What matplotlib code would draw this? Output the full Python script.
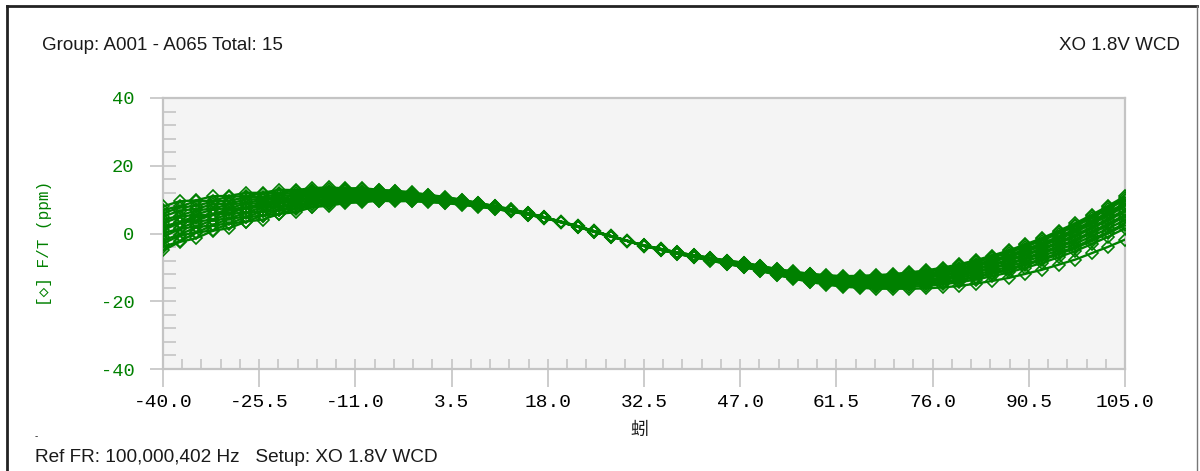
import matplotlib
matplotlib.use("Agg")
import matplotlib.pyplot as plt
from matplotlib.ticker import FixedLocator, AutoMinorLocator
from matplotlib.lines import Line2D

# ---------------- data ----------------
temps = [-40.0, -37.5, -35.0, -32.5, -30.0, -27.5, -25.0, -22.5, -20.0, -17.5,
         -15.0, -12.5, -10.0, -7.5, -5.0, -2.5, 0.0, 2.5, 5.0, 7.5,
         10.0, 12.5, 15.0, 17.5, 20.0, 22.5, 25.0, 27.5, 30.0, 32.5,
         35.0, 37.5, 40.0, 42.5, 45.0, 47.5, 50.0, 52.5, 55.0, 57.5,
         60.0, 62.5, 65.0, 67.5, 70.0, 72.5, 75.0, 77.5, 80.0, 82.5,
         85.0, 87.5, 90.0, 92.5, 95.0, 97.5, 100.0, 102.5, 105.0]

dev_01 = [8.0, 9.5, 9.8, 11.0, 11.1, 12.0, 12.0, 12.9, 12.8, 13.4, 13.6, 13.3, 13.4, 12.9, 12.6, 12.2, 11.4, 10.8, 10.0, 9.0,
          8.1, 7.2, 6.0, 4.8, 3.4, 2.1, 0.6, -0.8,
          -2.2, -3.5, -4.6, -5.6, -6.4, -7.2, -8.0, -8.7, -9.6, -10.6, -11.4, -12.0, -12.5, -12.7, -12.7, -12.5, -12.2,
          -11.7, -11.1, -10.4, -9.4, -8.2, -6.8, -5.3, -3.5, -1.7, 0.4, 2.6, 5.1, 7.7, 10.5]
dev_02 = [7.0, 8.0, 9.5, 9.7, 10.9, 11.0, 11.8, 12.0, 12.6, 12.8, 13.2, 13.0, 13.1, 12.7, 12.5, 11.8, 11.4, 10.6, 9.9, 9.0,
          8.1, 7.0, 6.1, 4.8, 3.5, 2.2, 0.7, -0.7,
          -2.2, -3.6, -4.7, -5.8, -6.8, -7.7, -8.6, -9.4, -10.5, -11.6, -12.5, -13.3, -14.0, -14.4, -14.5, -14.6, -14.4,
          -14.1, -13.8, -13.2, -12.5, -11.5, -10.3, -9.1, -7.5, -6.0, -4.1, -2.2, 0.1, 2.4, 5.0]
dev_03 = [6.0, 7.6, 8.2, 9.4, 9.7, 10.7, 10.8, 11.7, 11.9, 12.6, 12.6, 12.9, 12.6, 12.6, 12.0, 11.8, 11.0, 10.5, 9.7, 8.9,
          8.0, 7.0, 6.0, 4.8, 3.3, 2.0, 0.5, -0.9,
          -2.2, -3.6, -4.6, -5.7, -6.6, -7.4, -8.3, -9.0, -10.0, -11.0, -11.9, -12.6, -13.2, -13.5, -13.5, -13.5, -13.2,
          -12.8, -12.3, -11.7, -10.8, -9.7, -8.4, -7.0, -5.4, -3.7, -1.7, 0.4, 2.8, 5.3, 8.0]
dev_04 = [5.0, 6.7, 7.3, 8.6, 8.9, 10.0, 10.2, 11.2, 11.3, 12.2, 12.2, 12.5, 12.3, 12.3, 11.8, 11.6, 10.9, 10.4, 9.6, 8.8,
          7.9, 7.0, 5.9, 4.8, 3.5, 2.2, 0.6, -0.7,
          -2.2, -3.7, -4.8, -6.0, -6.9, -7.9, -8.9, -9.8, -10.8, -12.0, -13.0, -13.9, -14.7, -15.2, -15.4, -15.5, -15.4,
          -15.2, -15.0, -14.5, -13.8, -13.0, -11.9, -10.8, -9.3, -7.9, -6.1, -4.3, -2.2, 0.1, 2.5]
dev_05 = [4.0, 5.3, 6.8, 7.4, 8.6, 9.0, 10.0, 10.3, 11.2, 11.4, 12.0, 12.0, 12.2, 11.9, 11.8, 11.2, 10.9, 10.2, 9.5, 8.7,
          7.9, 6.9, 5.9, 4.8, 3.4, 2.0, 0.6, -0.8,
          -2.2, -3.5, -4.5, -5.6, -6.4, -7.2, -8.0, -8.6, -9.5, -10.5, -11.2, -11.9, -12.3, -12.6, -12.5, -12.3, -12.0,
          -11.5, -10.9, -10.1, -9.1, -7.9, -6.5, -5.0, -3.2, -1.4, 0.8, 3.0, 5.5, 8.2, 11.0]
dev_06 = [3.0, 4.9, 5.6, 7.1, 7.5, 8.8, 9.0, 10.1, 10.3, 11.4, 11.4, 11.8, 11.7, 11.8, 11.3, 11.2, 10.5, 10.1, 9.4, 8.6,
          7.8, 6.9, 5.9, 4.7, 3.4, 2.1, 0.6, -0.8,
          -2.2, -3.6, -4.7, -5.8, -6.7, -7.6, -8.4, -9.2, -10.2, -11.3, -12.2, -13.0, -13.6, -13.9, -14.0, -14.0, -13.8,
          -13.5, -13.1, -12.4, -11.6, -10.6, -9.4, -8.1, -6.4, -4.8, -2.9, -0.9, 1.5, 3.9, 6.5]
dev_07 = [2.0, 3.4, 5.2, 5.7, 7.3, 7.6, 8.9, 9.2, 10.2, 10.5, 11.2, 11.3, 11.6, 11.3, 11.3, 10.8, 10.6, 9.9, 9.3, 8.5,
          7.7, 6.8, 5.8, 4.7, 3.4, 2.1, 0.6, -0.8,
          -2.2, -3.7, -4.8, -6.0, -7.0, -8.0, -9.0, -9.9, -11.0, -12.2, -13.2, -14.2, -14.9, -15.5, -15.7, -15.9, -15.8,
          -15.7, -15.5, -15.0, -14.4, -13.6, -12.6, -11.5, -10.1, -8.7, -7.0, -5.2, -3.1, -0.9, 1.5]
dev_08 = [1.0, 3.1, 3.8, 5.5, 6.0, 7.5, 7.8, 9.0, 9.4, 10.5, 10.6, 11.1, 11.0, 11.3, 10.9, 10.8, 10.2, 9.8, 9.1, 8.5,
          7.7, 6.8, 5.8, 4.7, 3.4, 2.1, 0.6, -0.8,
          -2.2, -3.6, -4.6, -5.7, -6.5, -7.3, -8.2, -8.9, -9.8, -10.9, -11.7, -12.4, -12.9, -13.2, -13.2, -13.1, -12.8,
          -12.4, -11.9, -11.1, -10.2, -9.1, -7.8, -6.4, -4.6, -2.9, -0.9, 1.3, 3.7, 6.3, 9.0]
dev_09 = [0.0, 1.5, 3.5, 4.1, 5.8, 6.2, 7.7, 8.0, 9.3, 9.6, 10.4, 10.6, 10.9, 10.8, 10.9, 10.4, 10.3, 9.6, 9.0, 8.4,
          7.6, 6.7, 5.7, 4.7, 3.4, 2.1, 0.6, -0.8,
          -2.2, -3.6, -4.8, -5.9, -6.8, -7.8, -8.7, -9.6, -10.6, -11.8, -12.7, -13.6, -14.2, -14.7, -14.9, -14.9, -14.8,
          -14.6, -14.3, -13.7, -13.0, -12.1, -11.0, -9.8, -8.2, -6.7, -4.9, -3.0, -0.8, 1.5, 4.0]
dev_10 = [-1.0, 1.3, 2.1, 3.9, 4.5, 6.1, 6.5, 8.0, 8.3, 9.6, 9.7, 10.4, 10.4, 10.7, 10.4, 10.4, 9.9, 9.6, 8.9, 8.3,
          7.5, 6.7, 5.7, 4.6, 3.4, 2.1, 0.6, -0.8,
          -2.2, -3.6, -4.7, -5.8, -6.6, -7.5, -8.4, -9.2, -10.1, -11.2, -12.1, -12.9, -13.4, -13.8, -13.9, -13.8, -13.6,
          -13.3, -12.8, -12.2, -11.3, -10.3, -9.1, -7.7, -6.1, -4.4, -2.5, -0.4, 1.9, 4.4, 7.0]
dev_11 = [-2.0, -0.3, 1.8, 2.5, 4.4, 4.9, 6.5, 6.9, 8.3, 8.7, 9.6, 9.9, 10.3, 10.3, 10.4, 10.0, 9.9, 9.4, 8.8, 8.2,
          7.5, 6.6, 5.7, 4.6, 3.4, 2.1, 0.6, -0.8,
          -2.2, -3.6, -4.8, -5.9, -6.9, -7.9, -8.9, -9.8, -11.0, -12.2, -13.3, -14.3, -15.1, -15.7, -16.0, -16.3, -16.3,
          -16.3, -16.2, -15.9, -15.5, -14.8, -14.0, -13.1, -11.9, -10.7, -9.2, -7.7, -5.8, -3.9, -1.8]
dev_12 = [-3.0, -0.6, 0.3, 2.4, 3.0, 4.8, 5.3, 6.9, 7.4, 8.7, 9.0, 9.7, 9.8, 10.2, 10.0, 10.0, 9.6, 9.3, 8.7, 8.1,
          7.4, 6.6, 5.6, 4.6, 3.3, 2.0, 0.5, -0.9,
          -2.2, -3.5, -4.6, -5.6, -6.4, -7.3, -8.1, -8.8, -9.7, -10.7, -11.5, -12.1, -12.6, -12.9, -12.9, -12.7, -12.4,
          -11.9, -11.4, -10.6, -9.7, -8.5, -7.1, -5.7, -3.9, -2.1, 0.0, 2.1, 4.6, 7.2, 10.0]
dev_13 = [-4.0, -2.3, 0.2, 1.0, 2.9, 3.5, 5.3, 5.8, 7.3, 7.9, 8.8, 9.2, 9.7, 9.7, 9.9, 9.6, 9.5, 9.1, 8.6, 8.0,
          7.3, 6.5, 5.6, 4.6, 3.4, 2.1, 0.6, -0.8,
          -2.2, -3.6, -4.8, -5.9, -6.9, -7.9, -8.8, -9.7, -10.8, -11.9, -12.9, -13.8, -14.5, -15.0, -15.2, -15.3, -15.2,
          -15.0, -14.7, -14.3, -13.6, -12.7, -11.6, -10.4, -9.0, -7.5, -5.7, -3.9, -1.7, 0.5, 3.0]
dev_14 = [-5.0, -2.5, -1.4, 0.8, 1.6, 3.5, 4.1, 5.8, 6.3, 7.8, 8.2, 9.0, 9.2, 9.7, 9.5, 9.6, 9.2, 9.0, 8.5, 7.9,
          7.3, 6.5, 5.6, 4.6, 3.3, 2.1, 0.6, -0.8,
          -2.2, -3.6, -4.6, -5.7, -6.5, -7.4, -8.2, -9.0, -9.9, -10.9, -11.8, -12.5, -13.0, -13.3, -13.4, -13.3, -13.0,
          -12.6, -12.1, -11.4, -10.5, -9.4, -8.1, -6.7, -5.0, -3.3, -1.3, 0.8, 3.3, 5.8, 8.5]
dev_15 = [1.8, 3.0, 4.7, 5.4, 6.8, 7.3, 8.5, 9.0, 9.9, 10.4, 11.0, 11.1, 11.4, 11.2, 11.2, 10.7, 10.5, 9.8, 9.3, 8.4,
          7.8, 6.7, 5.9, 4.6, 3.5, 2.0, 0.7, -0.9,
          -2.1, -3.7, -4.7, -5.9, -6.7, -7.7, -8.5, -9.5, -10.3, -11.6, -12.4, -13.3, -13.8, -14.3, -14.3, -14.4, -14.2,
          -14.0, -13.5, -13.1, -12.1, -11.2, -10.0, -8.8, -7.2, -5.5, -3.7, -1.8, 0.6, 2.9, 5.5]

x_ticks = [-40.0, -25.5, -11.0, 3.5, 18.0, 32.5, 47.0, 61.5, 76.0, 90.5, 105.0]
x_tick_labels = ["-40.0", "-25.5", "-11.0", "3.5", "18.0", "32.5", "47.0", "61.5", "76.0", "90.5", "105.0"]
y_ticks = [-40, -20, 0, 20, 40]
y_tick_labels = ["-40", "-20", "0", "20", "40"]

title_left = "Group: A001 - A065 Total: 15"
title_right = "XO 1.8V WCD"
footer = "Ref FR: 100,000,402 Hz   Setup: XO 1.8V WCD"
y_label = "[\u25c7] F/T (ppm)"
x_label = "\u8693"

curves = [dev_01, dev_02, dev_03, dev_04, dev_05, dev_06, dev_07, dev_08,
          dev_09, dev_10, dev_11, dev_12, dev_13, dev_14, dev_15]

# ---------------- figure ----------------
GREEN = "#008000"
GRID = "#c4c4c4"
MONO = ["Liberation Mono", "DejaVu Sans Mono", "DejaVu Sans"]
SANS = ["Liberation Sans", "DejaVu Sans"]

W, H = 1200, 471
fig = plt.figure(figsize=(W / 100, H / 100), dpi=100)
fig.patch.set_facecolor("white")

ax = fig.add_axes([163 / W, 1 - 369 / H, (1125 - 163) / W, (369 - 98) / H])
ax.set_facecolor("#f4f4f4")

for c in curves:
    ax.plot(temps, c, color=GREEN, lw=1.7, marker="D", ms=6.0,
            mfc="none", mec=GREEN, mew=1.2, zorder=3)

ax.set_xlim(-40, 105)
ax.set_ylim(-40, 40)

ax.xaxis.set_major_locator(FixedLocator(x_ticks))
ax.xaxis.set_minor_locator(AutoMinorLocator(5))
ax.yaxis.set_major_locator(FixedLocator(y_ticks))
ax.yaxis.set_minor_locator(AutoMinorLocator(5))
ax.xaxis.remove_overlapping_locs = False
ax.yaxis.remove_overlapping_locs = False

ax.set_xticklabels(x_tick_labels, family=MONO, fontsize=14, color="black")
ax.set_yticklabels(y_tick_labels, family=MONO, fontsize=13.5, color=GREEN)

ax.tick_params(axis="x", which="major", direction="out", length=13, width=1.2,
               color=GRID, pad=5)
ax.tick_params(axis="x", which="minor", direction="in", length=7, width=1.2,
               color=GRID)
ax.tick_params(axis="y", which="major", direction="out", length=9.5, width=1.2,
               color=GRID, pad=11)
ax.tick_params(axis="y", which="minor", direction="in", length=9.5, width=1.2,
               color=GRID)

for s in ax.spines.values():
    s.set_color(GRID)
    s.set_linewidth(1.6)

# texts
fig.text(42 / W, 1 - 46 / H, title_left, family=SANS, fontsize=13.5,
         color="#1a1a1a", ha="left", va="center")
fig.text(1180 / W, 1 - 46 / H, title_right, family=SANS, fontsize=13.5,
         color="#1a1a1a", ha="right", va="center")
fig.text(35 / W, 1 - 457 / H, footer, family=SANS, fontsize=13.7,
         color="#1a1a1a", ha="left", va="center")
fig.text(35 / W, 1 - 436 / H, "-", family=SANS, fontsize=7,
         color="#1a1a1a", ha="left", va="center")
fig.text(44 / W, 1 - 243 / H, y_label, family=MONO, fontsize=11.5,
         color=GREEN, rotation=90, ha="center", va="center")
fig.text(639 / W, 1 - 430 / H, x_label,
         family=["Noto Sans CJK SC", "DejaVu Sans"], fontsize=13,
         color="#1a1a1a", ha="center", va="center")

# outer frame
fig.add_artist(Line2D([7 / W, 7 / W], [0, 1 - 6 / H], color="#222222", lw=2.0,
                      transform=fig.transFigure))
fig.add_artist(Line2D([7 / W, 1197 / W], [1 - 6 / H, 1 - 6 / H], color="#222222",
                      lw=2.0, transform=fig.transFigure))
fig.add_artist(Line2D([1197 / W, 1197 / W], [0, 1 - 6 / H], color="#777777",
                      lw=1.0, transform=fig.transFigure))

fig.savefig("out.png", dpi=100)
